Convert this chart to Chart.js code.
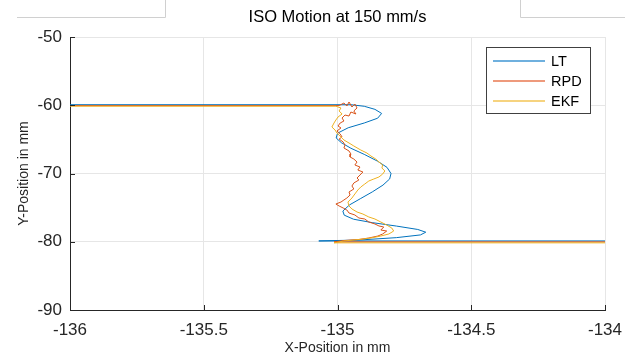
<!DOCTYPE html>
<html>
<head>
<meta charset="utf-8">
<script src="https://cdn.jsdelivr.net/npm/chart.js@4.4.1/dist/chart.umd.min.js"></script>
<style>
  html, body { margin: 0; padding: 0; background: #ffffff; }
  #wrap { position: relative; width: 637px; height: 358px; }
</style>
</head>
<body>
<div id="wrap"><canvas id="c" width="637" height="358"></canvas></div>
<script>
// ---- Data ----
const seriesNames = ['LT', 'RPD', 'EKF'];
const xTicks = [-136, -135.5, -135, -134.5, -134];
const yTicks = [-90, -80, -70, -60, -50];

const ltX = [-136, -134.95, -134.90, -134.86, -134.835, -134.85, -134.90, -134.96, -135.0, -135.005,
  -134.985, -134.95, -134.90, -134.85, -134.815, -134.80, -134.805, -134.83, -134.87, -134.915,
  -134.955, -134.98, -134.975, -134.94, -134.87, -134.78, -134.70, -134.67, -134.69, -134.78,
  -134.92, -135.07, -134];
const ltY = [-59.92, -59.92, -60.15, -60.6, -61.2, -61.9, -62.6, -63.3, -64.1, -64.8,
  -65.5, -66.3, -67.2, -68.2, -69.1, -70.0, -70.8, -71.7, -72.7, -73.7,
  -74.6, -75.5, -76.1, -76.7, -77.2, -77.7, -78.2, -78.6, -79.0, -79.4,
  -79.75, -79.88, -79.88];

const rpdX = [-136, -134.994, -134.976, -134.965, -134.957, -134.946, -134.935, -134.927, -134.939, -134.931,
  -134.950, -134.957, -134.972, -134.983, -134.976, -134.990, -134.998, -134.987, -135.002, -134.990,
  -134.983, -134.994, -134.979, -134.972, -134.976, -134.957, -134.950, -134.953, -134.939, -134.927,
  -134.935, -134.916, -134.924, -134.905, -134.916, -134.927, -134.920, -134.939, -134.946, -134.939,
  -134.957, -134.953, -134.965, -134.976, -134.987, -135.006, -134.994, -134.979, -134.965, -134.957,
  -134.935, -134.920, -134.898, -134.883, -134.860, -134.845, -134.827, -134.838, -134.816, -134.831,
  -134.849, -134.883, -134.920, -134.976, -135.013, -134];
const rpdY = [-60.05, -60.05, -59.67, -60.11, -59.52, -60.26, -59.82, -60.40, -60.84, -61.28,
  -60.99, -61.58, -61.43, -61.87, -62.31, -62.60, -63.04, -63.33, -63.77, -64.21,
  -64.65, -64.95, -65.38, -65.82, -66.26, -66.70, -67.14, -67.58, -67.88, -68.32,
  -68.75, -69.05, -69.49, -69.78, -70.22, -70.66, -70.95, -71.39, -71.83, -72.27,
  -72.71, -73.15, -73.59, -73.88, -74.18, -74.47, -74.76, -75.05, -75.35, -75.79,
  -76.08, -76.52, -76.67, -77.11, -77.40, -77.69, -77.84, -78.28, -78.43, -78.86,
  -79.16, -79.45, -79.67, -79.82, -80.02, -80.02];

const ekfX = [-136, -135.006, -134.987, -134.994, -134.983, -134.998, -135.006, -135.013, -135.021, -135.009,
  -135.002, -134.987, -134.976, -134.957, -134.939, -134.913, -134.890, -134.875, -134.857, -134.845,
  -134.831, -134.834, -134.823, -134.831, -134.845, -134.864, -134.883, -134.898, -134.913, -134.924,
  -134.935, -134.946, -134.961, -134.957, -134.946, -134.927, -134.905, -134.883, -134.860, -134.838,
  -134.816, -134.797, -134.790, -134.808, -134.838, -134.875, -134.920, -134.976, -135.013, -134];
const ekfY = [-60.14, -60.14, -60.40, -60.84, -61.28, -61.72, -62.16, -62.60, -63.19, -63.63,
  -64.07, -64.65, -65.09, -65.53, -65.97, -66.56, -67.00, -67.44, -67.88, -68.32,
  -68.75, -69.19, -69.63, -70.07, -70.51, -70.80, -71.10, -71.54, -71.98, -72.42,
  -73.00, -73.59, -74.18, -74.76, -75.20, -75.64, -75.94, -76.37, -76.67, -77.11,
  -77.55, -77.99, -78.43, -78.86, -79.16, -79.45, -79.67, -79.89, -80.16, -80.16];

const seriesColors = ['#0072BD', '#D95319', '#EDB120'];
const legendColors = ['#6fb0de', '#ee9a7c', '#f6d37f'];

function pts(xs, ys) { return xs.map((x, i) => ({ x: x, y: ys[i] })); }

const FONT = "'Liberation Sans', Arial, Helvetica, sans-serif";
const AXIS_COLOR = '#262626';

// Title centred over the plot area; inward ticks, legend box, frame lines
const extras = {
  id: 'extras',
  afterLayout(chart) {
    const t = chart.titleBlock, a = chart.chartArea;
    if (t) { t.left = a.left; t.right = a.right; t.width = a.right - a.left; }
  },
  afterDraw(chart) {
    const ctx = chart.ctx;
    const xs = chart.scales.x, ys = chart.scales.y;
    const a = chart.chartArea;
    ctx.save();
    // faint frame lines at top (from the original figure screenshot)
    ctx.strokeStyle = '#d0d0d0';
    ctx.lineWidth = 1;
    ctx.beginPath();
    ctx.moveTo(17, 17.5); ctx.lineTo(165.5, 17.5); ctx.lineTo(165.5, 0);
    ctx.moveTo(520.5, 0); ctx.lineTo(520.5, 17.5); ctx.lineTo(625, 17.5);
    ctx.stroke();
    // inward ticks
    ctx.strokeStyle = AXIS_COLOR;
    ctx.beginPath();
    xTicks.forEach(v => {
      const px = Math.round(xs.getPixelForValue(v)) + 0.5;
      ctx.moveTo(px, a.bottom); ctx.lineTo(px, a.bottom - 5);
    });
    yTicks.forEach(v => {
      const py = Math.round(ys.getPixelForValue(v)) + 0.5;
      ctx.moveTo(a.left, py); ctx.lineTo(a.left + 5, py);
    });
    ctx.stroke();
    // legend
    const bx = 486.5, by = 47.5, bw = 104, bh = 66;
    ctx.fillStyle = '#ffffff';
    ctx.fillRect(bx, by, bw, bh);
    ctx.strokeStyle = '#404040';
    ctx.lineWidth = 1;
    ctx.strokeRect(bx, by, bw, bh);
    ctx.font = '14.5px ' + FONT;
    ctx.textBaseline = 'middle';
    ctx.textAlign = 'left';
    for (let i = 0; i < seriesNames.length; i++) {
      const y = 61 + i * 20;
      ctx.beginPath();
      ctx.strokeStyle = legendColors[i];
      ctx.lineWidth = 2;
      ctx.moveTo(493, y);
      ctx.lineTo(545, y);
      ctx.stroke();
      ctx.fillStyle = '#000000';
      ctx.fillText(seriesNames[i], 551, y + 1);
    }
    ctx.restore();
  }
};

new Chart(document.getElementById('c'), {
  type: 'scatter',
  data: {
    datasets: [
      { label: seriesNames[0], data: pts(ltX, ltY), borderColor: seriesColors[0], order: 3 },
      { label: seriesNames[1], data: pts(rpdX, rpdY), borderColor: seriesColors[1], order: 2 },
      { label: seriesNames[2], data: pts(ekfX, ekfY), borderColor: seriesColors[2], order: 1 }
    ].map(d => Object.assign(d, {
      showLine: true, pointRadius: 0, borderWidth: 1, tension: 0, fill: false,
      backgroundColor: d.borderColor
    }))
  },
  options: {
    responsive: false,
    animation: false,
    devicePixelRatio: 1,
    layout: { padding: { left: 0, right: 32, top: 0, bottom: 0 } },
    plugins: {
      legend: { display: false },
      tooltip: { enabled: false },
      title: {
        display: true,
        text: 'ISO Motion at 150 mm/s',
        color: '#000000',
        font: { family: FONT, size: 16.5, weight: 'normal' },
        padding: { top: 7.8, bottom: 9.4 }
      }
    },
    scales: {
      x: {
        type: 'linear',
        min: -136, max: -134,
        afterBuildTicks: s => { s.ticks = xTicks.map(v => ({ value: v })); },
        afterFit: s => { s.height = 48; },
        ticks: {
          color: AXIS_COLOR,
          font: { family: FONT, size: 17 },
          padding: 10,
          maxRotation: 0,
          callback: v => String(v)
        },
        grid: { color: '#e6e6e6', lineWidth: 1, drawTicks: false },
        border: { display: true, color: AXIS_COLOR, width: 1 },
        title: {
          display: true, text: 'X-Position in mm', color: AXIS_COLOR,
          font: { family: FONT, size: 14 }, padding: { top: 0, bottom: 1.6 }
        }
      },
      y: {
        type: 'linear',
        min: -90, max: -50,
        afterBuildTicks: s => { s.ticks = yTicks.map(v => ({ value: v })); },
        afterFit: s => { s.width = 70; },
        ticks: {
          color: AXIS_COLOR,
          font: { family: FONT, size: 17 },
          padding: 8,
          callback: v => String(v)
        },
        grid: { color: '#e6e6e6', lineWidth: 1, drawTicks: false },
        border: { display: true, color: AXIS_COLOR, width: 1 },
        title: {
          display: true, text: 'Y-Position in mm', color: AXIS_COLOR,
          font: { family: FONT, size: 14 }, padding: { top: 15.6, bottom: 0 }
        }
      }
    }
  },
  plugins: [extras]
});
</script>
</body>
</html>
